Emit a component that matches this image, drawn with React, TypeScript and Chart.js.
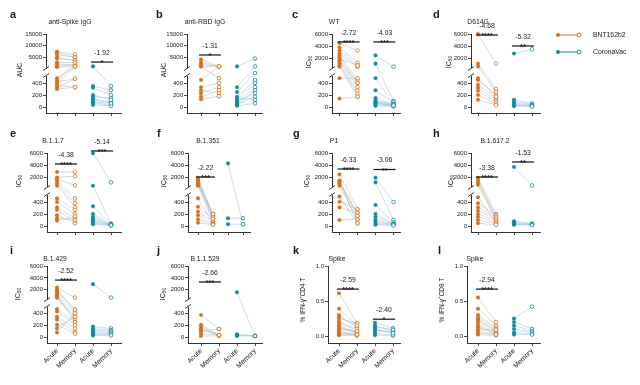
import React, { useEffect, useRef } from 'react';
import { Chart, registerables, LinearScale } from 'chart.js';

Chart.register(...registerables);

// ---------- data ----------
const xLabels = ['Acute', 'Memory', 'Acute', 'Memory'];
const aucTicks = [0, 200, 400, 5000, 10000, 15000];
const icTicks = [0, 200, 400, 2000, 4000, 6000];
const pctTicks = [0, 0.5, 1.0];

const aBntAcute = [7500, 7100, 6250, 5000, 4600, 2900, 2100, 1250, 1000, 480, 450, 420, 400, 360, 330, 300];
const aBntMemory = [6250, 5000, 5000, 3750, 3750, 2900, 2100, 2100, 1250, 1250, 2900, 470, 1250, 330, 470, 330];
const aCvAcute = [1250, 350, 320, 170, 135, 85, 65, 35, 120, 200];
const aCvMemory = [350, 280, 200, 150, 85, 65, 35, 20, 60, 120];

const bBntAcute = [4200, 2900, 2100, 1250, 1250, 450, 330, 280, 230, 170, 130];
const bBntMemory = [1250, 1250, 1250, 1250, 480, 1250, 400, 230, 330, 280, 180];
const bCvAcute = [1250, 330, 250, 170, 120, 70, 35, 90, 50, 150, 20];
const bCvMemory = [4600, 1250, 700, 450, 400, 330, 280, 230, 170, 120, 60];

const cBntAcute = [4500, 3800, 3300, 2800, 2500, 2200, 1700, 1200, 850, 650, 480, 140, 2000, 1500];
const cBntMemory = [3300, 1300, 850, 620, 450, 400, 330, 270, 220, 170, 480, 170, 850, 400];
const cCvAcute = [2500, 1150, 480, 280, 150, 110, 80, 60, 40, 20, 100, 70];
const cCvMemory = [650, 100, 60, 80, 50, 40, 30, 20, 15, 10, 35, 25];

const dBntAcute = [6000, 1150, 700, 450, 370, 320, 270, 200, 120, 480];
const dBntMemory = [1150, 300, 250, 200, 150, 120, 90, 60, 30, 170];
const dCvAcute = [2800, 120, 90, 60, 40, 25, 15];
const dCvMemory = [3500, 60, 40, 30, 20, 15, 10];

const eBntAcute = [2900, 2000, 1700, 1400, 950, 650, 460, 400, 310, 270, 180, 130, 90];
const eBntMemory = [2900, 2200, 700, 460, 380, 310, 270, 200, 130, 70, 45, 100, 160];
const eCvAcute = [5950, 650, 330, 200, 150, 120, 90, 70, 50, 30];
const eCvMemory = [1200, 40, 30, 30, 25, 20, 20, 15, 10, 10];

const fBntAcute = [1950, 1500, 1050, 650, 460, 320, 240, 180, 110, 55, 1800, 1250, 700];
const fBntMemory = [200, 170, 120, 70, 45, 120, 70, 45, 30, 20, 170, 120, 200];
const fCvAcute = [4300, 130, 30];
const fCvMemory = [30, 130, 30];

const gBntAcute = [2500, 1300, 1000, 650, 490, 405, 310, 100, 1500, 1350];
const gBntMemory = [280, 220, 170, 110, 45, 280, 220, 110, 170, 45];
const gCvAcute = [1950, 1200, 350, 200, 150, 100, 70, 40, 20];
const gCvMemory = [400, 100, 60, 40, 30, 25, 20, 15, 10];

const hBntAcute = [1900, 1600, 1200, 800, 480, 380, 310, 255, 200, 155, 100, 45];
const hBntMemory = [200, 150, 120, 100, 60, 180, 150, 120, 90, 60, 40, 20];
const hCvAcute = [3700, 80, 60, 40, 30, 20];
const hCvMemory = [700, 40, 30, 25, 20, 15];

const iBntAcute = [2400, 1700, 1300, 900, 650, 480, 440, 350, 300, 210, 150, 80, 2000, 1100];
const iBntMemory = [700, 470, 410, 350, 300, 260, 210, 150, 90, 60, 350, 410, 470, 260];
const iCvAcute = [2950, 180, 150, 120, 90, 70, 50, 30];
const iCvMemory = [700, 150, 120, 100, 80, 60, 40, 30];

const jBntAcute = [380, 210, 150, 100, 60, 20, 180, 120];
const jBntMemory = [140, 35, 35, 140, 35, 20, 35, 35];
const jCvAcute = [1600, 50, 20, 30];
const jCvMemory = [20, 20, 20, 20];

const kBntAcute = [0.61, 0.39, 0.30, 0.25, 0.21, 0.18, 0.15, 0.11, 0.07, 0.04, 0.01, 0.27, 0.13, 0.09, 0.05, 0.02];
const kBntMemory = [0.18, 0.15, 0.11, 0.18, 0.07, 0.11, 0.04, 0.07, 0.01, 0.04, 0.01, 0.15, 0.04, 0.07, 0.01, 0.02];
const kCvAcute = [0.19, 0.15, 0.11, 0.07, 0.04, 0.01, 0.09, 0.13];
const kCvMemory = [0.11, 0.07, 0.04, 0.07, 0.01, 0.01, 0.04, 0.09];

const lBntAcute = [0.55, 0.39, 0.30, 0.26, 0.21, 0.17, 0.12, 0.07, 0.02, 0.24, 0.14, 0.09, 0.04];
const lBntMemory = [0.20, 0.15, 0.12, 0.10, 0.08, 0.05, 0.04, 0.02, 0.01, 0.06, 0.03, 0.09, 0.02];
const lCvAcute = [0.25, 0.20, 0.15, 0.10, 0.05, 0.02];
const lCvMemory = [0.42, 0.10, 0.07, 0.05, 0.03, 0.02];

// ---------- styles / layout ----------
const FONT = 'Arial, "Liberation Sans", Helvetica, sans-serif';
const ORANGE = '#d6711f';
const TEAL = '#148a9c';
const LINE_BNT = 'rgba(175,180,188,0.7)';
const LINE_CV = 'rgba(160,196,222,0.8)';
const TXT = '#1a1a1a';
const YW = 30;
const XH = 30;

const BRK: any = {
  auc: { lowMax: 500, highMin: 1000, highMax: 15000, lowU: 30, gapU: 10, highU: 33 },
  ic: { lowMax: 500, highMin: 600, highMax: 6000, lowU: 30, gapU: 10, highU: 33 },
};

const ROWS = [
  { top: 34, bottom: 113, titleY: 22, letterY: 18 },
  { top: 153, bottom: 232, titleY: 141, letterY: 137 },
  { top: 266, bottom: 343, titleY: 259, letterY: 254 },
];

const PANELS: any[] = [
  { letter: 'a', title: 'anti-Spike IgG', yKind: 'auc', ylab: 'auc', row: 0, L: 46, R: 121, c1: 57, s: 18, titleX: 70, letterX: 10, ylabX: 20,
    data: [aBntAcute, aBntMemory, aCvAcute, aCvMemory], ann: [{ g: 1, text: '-1.92', stars: '*', y: 3100 }] },
  { letter: 'b', title: 'anti-RBD IgG', yKind: 'auc', ylab: 'auc', row: 0, L: 187, R: 262, c1: 201, s: 18, titleX: 205, letterX: 156, ylabX: 164,
    data: [bBntAcute, bBntMemory, bCvAcute, bCvMemory], ann: [{ g: 0, text: '-1.31', stars: '*', y: 6100 }] },
  { letter: 'c', title: 'WT', yKind: 'ic', ylab: 'ic', row: 0, L: 332, R: 400, c1: 339.5, s: 18, titleX: 334, letterX: 292, ylabX: 309,
    data: [cBntAcute, cBntMemory, cCvAcute, cCvMemory], ann: [{ g: 0, text: '-2.72', stars: '****', y: 4700 }, { g: 1, text: '-4.03', stars: '***', y: 4700 }] },
  { letter: 'd', title: 'D614G', yKind: 'ic', ylab: 'ic', row: 0, L: 471, R: 540, c1: 478, s: 18, titleX: 478, letterX: 433, ylabX: 449, legend: true,
    data: [dBntAcute, dBntMemory, dCvAcute, dCvMemory], ann: [{ g: 0, text: '-4.68', stars: '****', y: 5840 }, { g: 1, text: '-5.32', stars: '**', y: 4040 }] },
  { letter: 'e', title: 'B.1.1.7', yKind: 'ic', ylab: 'ic', row: 1, L: 47, R: 121, c1: 57, s: 18, titleX: 53, letterX: 10, ylabX: 19,
    data: [eBntAcute, eBntMemory, eCvAcute, eCvMemory], ann: [{ g: 0, text: '-4.38', stars: '****', y: 4200 }, { g: 1, text: '-5.14', stars: '***', y: 6330 }] },
  { letter: 'f', title: 'B.1.351', yKind: 'ic', ylab: 'ic', row: 1, L: 188, R: 250, c1: 198, s: 15, titleX: 208, letterX: 157, ylabX: 164,
    data: [fBntAcute, fBntMemory, fCvAcute, fCvMemory], ann: [{ g: 0, text: '-2.22', stars: '***', y: 2070 }] },
  { letter: 'g', title: 'P1', yKind: 'ic', ylab: 'ic', row: 1, L: 332, R: 400, c1: 339.5, s: 18, titleX: 334, letterX: 293, ylabX: 307,
    data: [gBntAcute, gBntMemory, gCvAcute, gCvMemory], ann: [{ g: 0, text: '-6.33', stars: '****', y: 3380 }, { g: 1, text: '-3.06', stars: '**', y: 3300 }] },
  { letter: 'h', title: 'B.1.617.2', yKind: 'ic', ylab: 'ic', row: 1, L: 471, R: 540, c1: 478, s: 18, titleX: 495, letterX: 433, ylabX: 451,
    data: [hBntAcute, hBntMemory, hCvAcute, hCvMemory], ann: [{ g: 0, text: '-3.38', stars: '****', y: 2070 }, { g: 1, text: '-1.53', stars: '**', y: 4530 }] },
  { letter: 'i', title: 'B.1.429', yKind: 'ic', ylab: 'ic', row: 2, L: 47, R: 121, c1: 57, s: 18, titleX: 55, letterX: 10, ylabX: 18,
    data: [iBntAcute, iBntMemory, iCvAcute, iCvMemory], ann: [{ g: 0, text: '-2.52', stars: '****', y: 3640 }] },
  { letter: 'j', title: 'B.1.1.529', yKind: 'ic', ylab: 'ic', row: 2, L: 188, R: 262, c1: 201, s: 18, titleX: 205, letterX: 157, ylabX: 163,
    data: [jBntAcute, jBntMemory, jCvAcute, jCvMemory], ann: [{ g: 0, text: '-2.66', stars: '***', y: 3320 }] },
  { letter: 'k', title: 'Spike', yKind: 'pct', ylab: 'cd4', row: 2, L: 328, R: 400, c1: 339, s: 18, titleX: 337, letterX: 293, ylabX: 303,
    data: [kBntAcute, kBntMemory, kCvAcute, kCvMemory], ann: [{ g: 0, text: '-2.59', stars: '****', y: 0.67 }, { g: 1, text: '-2.40', stars: '*', y: 0.24 }] },
  { letter: 'l', title: 'Spike', yKind: 'pct', ylab: 'cd8', row: 2, L: 467, R: 540, c1: 478, s: 18, titleX: 475, letterX: 438, ylabX: 442,
    data: [lBntAcute, lBntMemory, lCvAcute, lCvMemory], ann: [{ g: 0, text: '-2.94', stars: '****', y: 0.67 }] },
];

// ---------- broken-axis scale ----------
class BrokenScale extends (LinearScale as any) {
  static id = 'broken';
  static defaults = {};
  toUnits(v: any): number {
    const b = (this as any).options.brk;
    if (v === null || v === undefined || Number.isNaN(v)) return NaN;
    if (v <= b.lowMax) return (v / b.lowMax) * b.lowU;
    if (v >= b.highMin) return b.lowU + b.gapU + ((v - b.highMin) / (b.highMax - b.highMin)) * b.highU;
    return b.lowU + ((v - b.lowMax) / (b.highMin - b.lowMax)) * b.gapU;
  }
  getPixelForValue(v: any): number {
    const u = this.toUnits(v);
    if (Number.isNaN(u)) return NaN;
    return super.getPixelForValue(u);
  }
}
Chart.register(BrokenScale as any);

function drawYLabel(ctx: CanvasRenderingContext2D, kind: string, x: number, y: number) {
  ctx.save();
  ctx.translate(x, y);
  ctx.rotate(-Math.PI / 2);
  ctx.textBaseline = 'middle';
  ctx.textAlign = 'left';
  ctx.fillStyle = TXT;
  let parts: any[];
  if (kind === 'auc') parts = [['AUC', 6.8, 0]];
  else if (kind === 'ic') parts = [['IC', 7, 0], ['50', 5, 1.8]];
  else parts = [['% IFN-γ', 6.5, 0], ['+', 4.5, -2.2], [kind === 'cd4' ? 'CD4 T' : 'CD8 T', 6.5, 0]];
  let total = 0;
  for (const [t, f] of parts) { ctx.font = `${f}px ${FONT}`; total += ctx.measureText(t).width; }
  let cx = -total / 2;
  for (const [t, f, dy] of parts) {
    ctx.font = `${f}px ${FONT}`;
    ctx.fillText(t, cx, dy);
    cx += ctx.measureText(t).width;
  }
  ctx.restore();
}

function decoPlugin(p: any) {
  return {
    id: 'deco',
    afterDraw(chart: any) {
      const ctx: CanvasRenderingContext2D = chart.ctx;
      const xs = chart.scales.x;
      const ys = chart.scales.y;
      const row = ROWS[p.row];
      ctx.save();
      ctx.fillStyle = TXT;
      ctx.font = `bold 11px ${FONT}`;
      ctx.textAlign = 'left';
      ctx.textBaseline = 'alphabetic';
      ctx.fillText(p.letter, p.letterX, row.letterY);
      ctx.font = `6.8px ${FONT}`;
      ctx.textAlign = 'center';
      ctx.textBaseline = 'middle';
      ctx.fillText(p.title, p.titleX, row.titleY);
      const ylabY = p.ylab === 'auc' ? row.top + 36 : p.ylab === 'ic' ? row.top + 28 : row.top + 34;
      drawYLabel(ctx, p.ylab, p.ylabX, ylabY);

      // axis break
      if (p.yKind !== 'pct') {
        const b = BRK[p.yKind];
        const yLow = ys.getPixelForValue(b.lowMax);
        const yHigh = ys.getPixelForValue(b.highMin);
        const ax = chart.chartArea.left;
        ctx.fillStyle = '#fff';
        ctx.fillRect(ax - 2, yHigh + 1, 4, yLow - yHigh - 2);
        ctx.strokeStyle = '#222';
        ctx.lineWidth = 0.9;
        for (const yy of [yHigh + 1.5, yLow - 1.5]) {
          ctx.beginPath();
          ctx.moveTo(ax - 3, yy + 2);
          ctx.lineTo(ax + 3, yy - 2);
          ctx.stroke();
        }
      }

      // significance annotations
      for (const a of p.ann) {
        const x1 = xs.getPixelForValue(a.g * 2 + 1) - 2;
        const x2 = xs.getPixelForValue(a.g * 2 + 2) + 2;
        const yb = ys.getPixelForValue(a.y);
        ctx.strokeStyle = '#111';
        ctx.lineWidth = 1.2;
        ctx.beginPath();
        ctx.moveTo(x1, yb);
        ctx.lineTo(x2, yb);
        ctx.stroke();
        ctx.fillStyle = TXT;
        ctx.textAlign = 'center';
        ctx.font = `bold 7.5px ${FONT}`;
        ctx.textBaseline = 'alphabetic';
        ctx.fillText(a.stars, (x1 + x2) / 2, yb + 3.2);
        ctx.font = `6.8px ${FONT}`;
        ctx.textBaseline = 'middle';
        ctx.fillText(a.text, (x1 + x2) / 2, yb - 9);
      }

      // legend
      if (p.legend) {
        const items = [
          { label: 'BNT162b2', color: ORANGE, y: 35 },
          { label: 'CoronaVac', color: TEAL, y: 52 },
        ];
        for (const it of items) {
          ctx.strokeStyle = it.color;
          ctx.lineWidth = 1;
          ctx.beginPath();
          ctx.moveTo(558, it.y);
          ctx.lineTo(579, it.y);
          ctx.stroke();
          ctx.fillStyle = it.color;
          ctx.beginPath();
          ctx.arc(558, it.y, 2, 0, Math.PI * 2);
          ctx.fill();
          ctx.fillStyle = '#fff';
          ctx.beginPath();
          ctx.arc(579, it.y, 2, 0, Math.PI * 2);
          ctx.fill();
          ctx.stroke();
          ctx.fillStyle = TXT;
          ctx.font = `6.8px ${FONT}`;
          ctx.textAlign = 'left';
          ctx.textBaseline = 'middle';
          ctx.fillText(it.label, 593, it.y);
        }
      }
      ctx.restore();
    },
  };
}

function buildConfig(p: any) {
  const row = ROWS[p.row];
  const [bA, bM, cA, cM] = p.data;
  const pairs = (acute: number[], memory: number[], xa: number) => {
    const out: any[] = [];
    acute.forEach((v, i) => {
      out.push({ x: xa, y: v }, { x: xa + 1, y: memory[i] }, { x: xa + 0.5, y: null });
    });
    return out;
  };
  const pts = (arr: number[], x: number) => arr.map((v) => ({ x, y: v }));
  const xmin = 1 - (p.c1 - p.L) / p.s;
  const xmax = xmin + (p.R - p.L) / p.s;
  const connector = (data: any[], color: string) => ({
    type: 'line', data, borderColor: color, borderWidth: 0.7, pointRadius: 0, showLine: true,
    spanGaps: false, order: 2, clip: false, fill: false,
  });
  const dots = (data: any[], color: string, open: boolean) => ({
    type: 'scatter', data, showLine: false, borderColor: color, backgroundColor: open ? '#fff' : color,
    pointRadius: 1.8, pointBorderWidth: open ? 0.8 : 0.4,
    pointBackgroundColor: open ? '#fff' : color, pointBorderColor: color, order: 1, clip: false,
  });
  const yTicks = p.yKind === 'auc' ? aucTicks : p.yKind === 'ic' ? icTicks : pctTicks;
  const yScale: any = p.yKind === 'pct'
    ? { type: 'linear', min: -0.1, max: 1.0 }
    : { type: 'broken', brk: BRK[p.yKind], min: -6, max: 73 };
  return {
    type: 'scatter',
    data: {
      datasets: [
        connector(pairs(bA, bM, 1), LINE_BNT),
        connector(pairs(cA, cM, 3), LINE_CV),
        dots(pts(bA, 1), ORANGE, false),
        dots(pts(bM, 2), ORANGE, true),
        dots(pts(cA, 3), TEAL, false),
        dots(pts(cM, 4), TEAL, true),
      ],
    },
    options: {
      animation: false,
      responsive: false,
      devicePixelRatio: 1,
      events: [],
      layout: { padding: { left: p.L - YW, right: 640 - p.R, top: row.top, bottom: 385 - row.bottom - XH } },
      plugins: { legend: { display: false }, tooltip: { enabled: false }, title: { display: false } },
      scales: {
        x: {
          type: 'linear', position: 'bottom', min: xmin, max: xmax, bounds: 'data',
          afterBuildTicks: (s: any) => { s.ticks = [1, 2, 3, 4].map((v) => ({ value: v })); },
          afterFit: (s: any) => { s.height = XH; s.paddingLeft = 0; s.paddingRight = 0; },
          ticks: {
            autoSkip: false, minRotation: p.row === 2 ? 45 : 0, maxRotation: p.row === 2 ? 45 : 0,
            font: { size: 6.8, family: FONT }, color: TXT, padding: 1,
            callback: (v: any) => (p.row === 2 ? xLabels[Math.round(v) - 1] : ''),
          },
          grid: { drawOnChartArea: false, drawTicks: true, tickLength: 3, color: '#333', lineWidth: 0.9 },
          border: { display: true, color: '#333', width: 1 },
        },
        y: {
          ...yScale,
          position: 'left', bounds: 'data',
          afterBuildTicks: (s: any) => { s.ticks = yTicks.map((v) => ({ value: v })); },
          afterFit: (s: any) => { s.width = YW; s.paddingTop = 0; s.paddingBottom = 0; },
          ticks: {
            autoSkip: false, font: { size: 6, family: FONT }, color: TXT, padding: 1,
            callback: (v: any) => (p.yKind === 'pct' ? Number(v).toFixed(1) : String(v)),
          },
          grid: { drawOnChartArea: false, drawTicks: true, tickLength: 3, color: '#333', lineWidth: 0.9 },
          border: { display: true, color: '#333', width: 1 },
        },
      },
    },
    plugins: [decoPlugin(p)],
  };
}

function PanelCanvas({ p }: { p: any }) {
  const ref = useRef<HTMLCanvasElement>(null);
  useEffect(() => {
    const chart = new Chart(ref.current as HTMLCanvasElement, buildConfig(p) as any);
    return () => chart.destroy();
  }, [p]);
  return <canvas ref={ref} width={640} height={385} style={{ position: 'absolute', left: 0, top: 0 }} />;
}

export default function App() {
  return (
    <div style={{ position: 'absolute', left: 0, top: 0, width: 640, height: 385, background: '#fff', overflow: 'hidden' }}>
      {PANELS.map((p) => <PanelCanvas key={p.letter} p={p} />)}
    </div>
  );
}
